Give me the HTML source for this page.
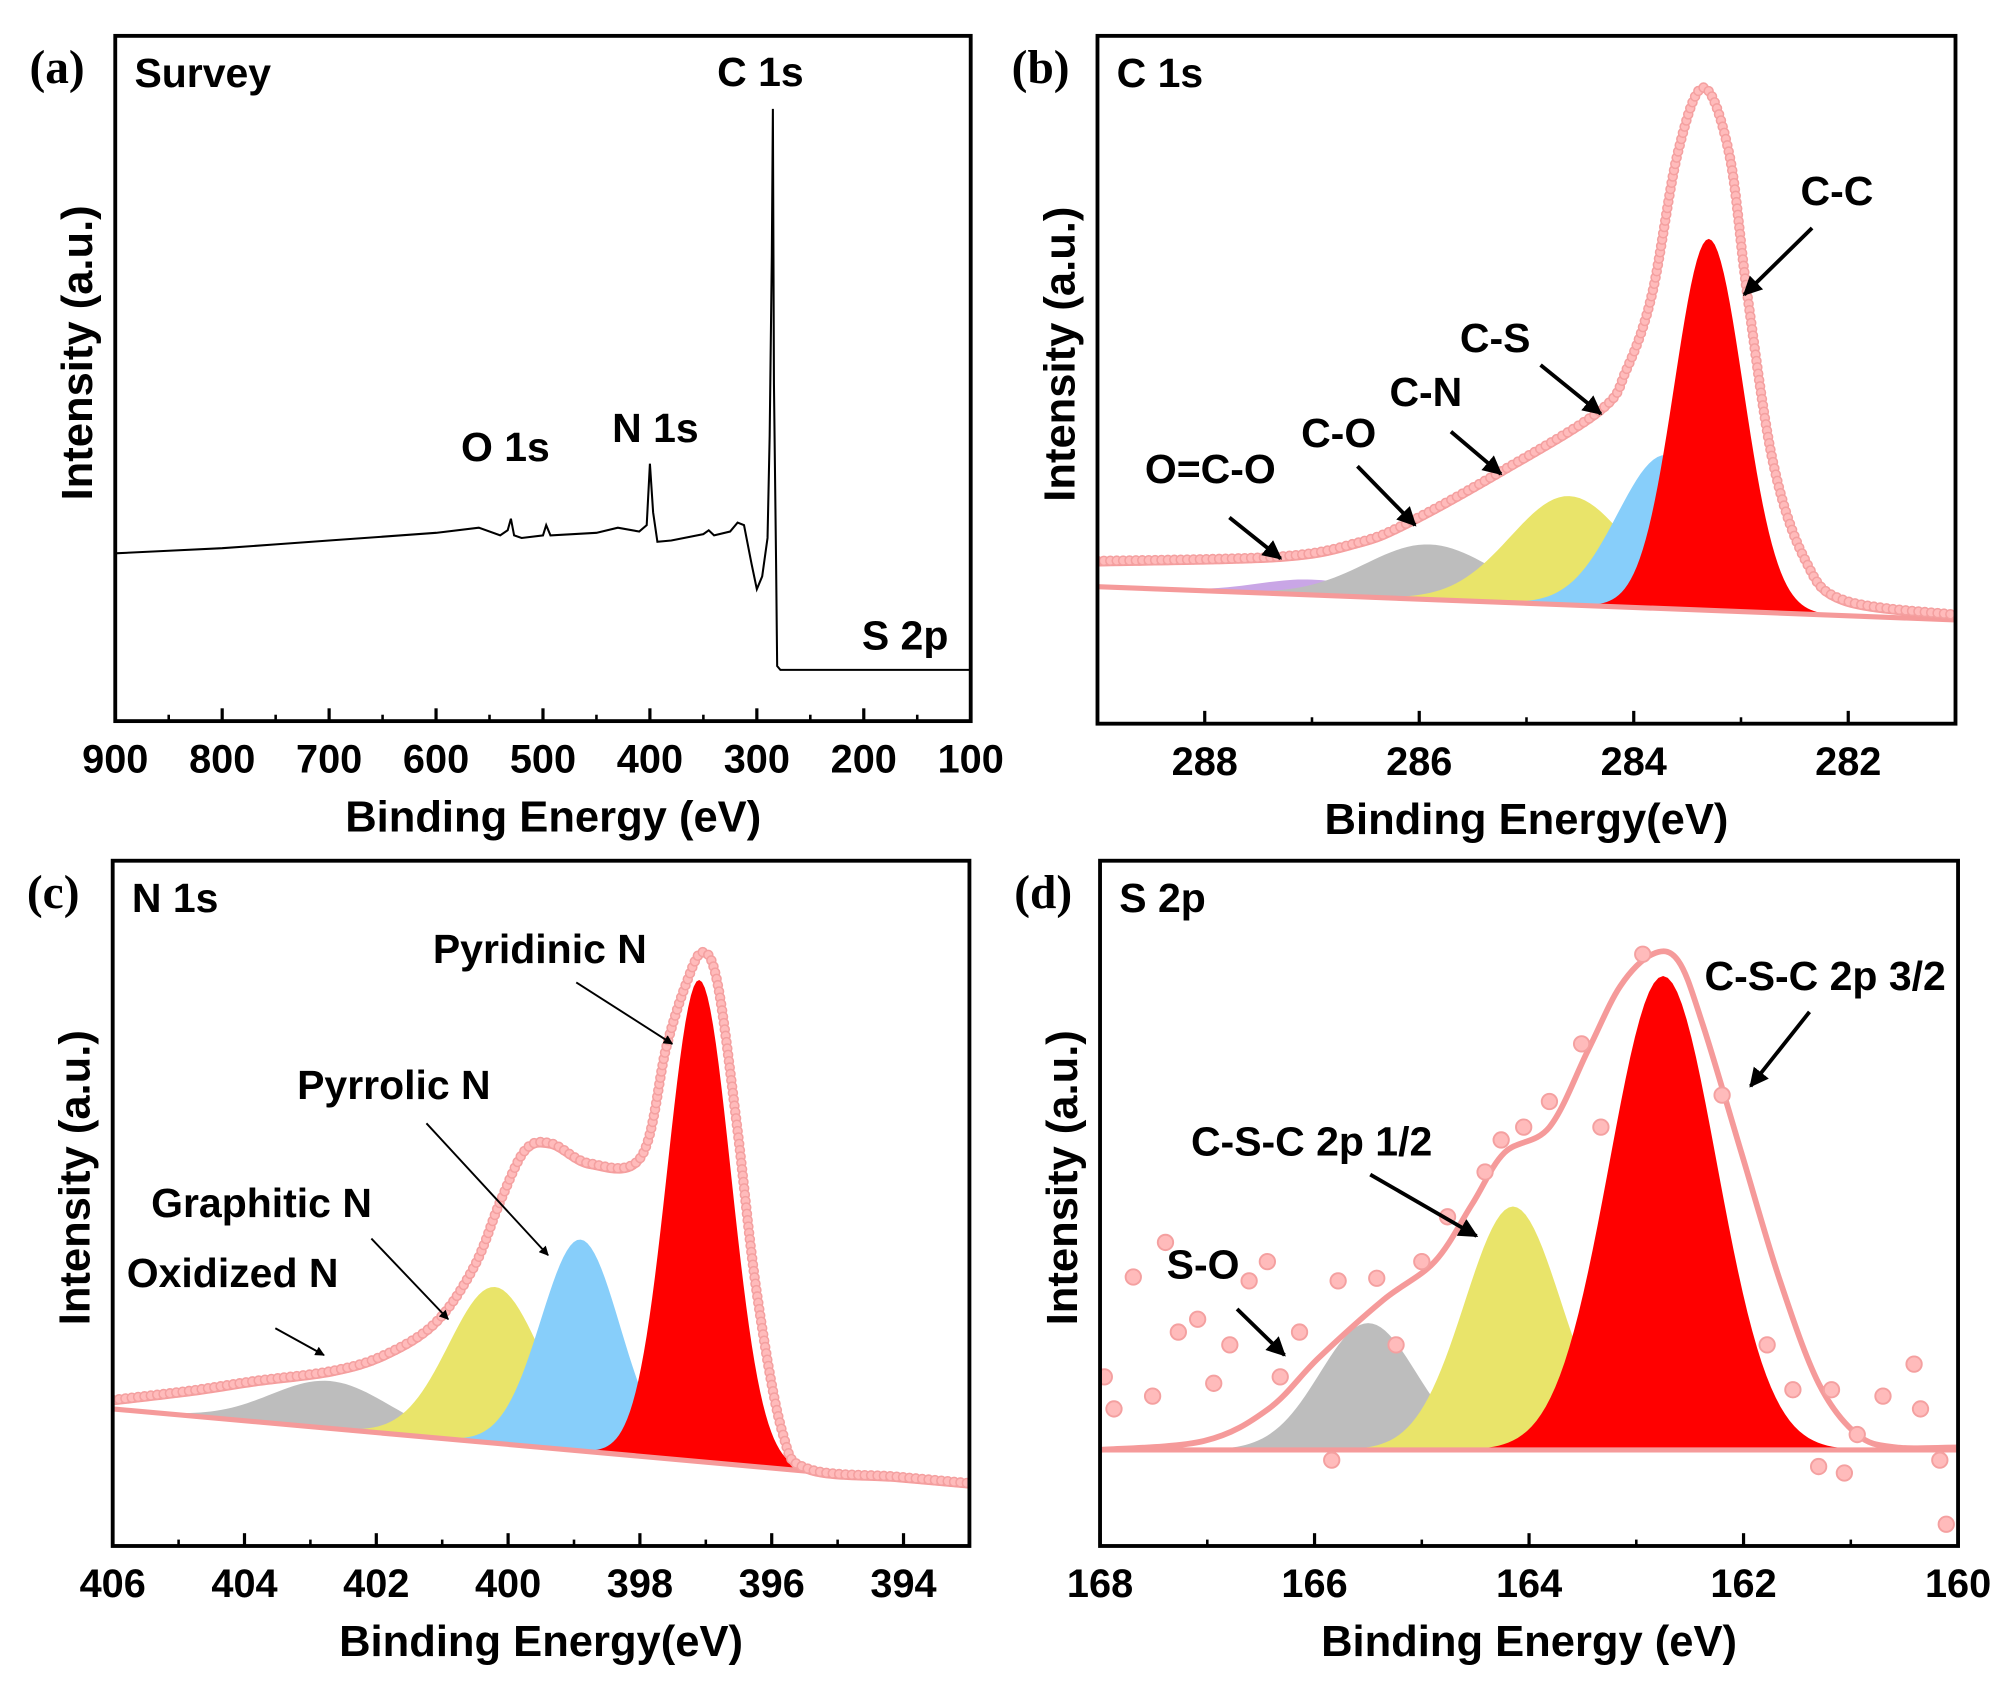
<!DOCTYPE html>
<html><head><meta charset="utf-8"><style>
html,body{margin:0;padding:0;background:#fff}
svg{display:block}
text{font-family:"Liberation Sans",sans-serif;font-weight:bold;fill:#000}
.pl{font-family:"Liberation Serif",serif;font-size:37px}
.tk{font-size:31px}
.ax{font-size:34px}
.lb{font-size:32px}
</style></head><body>
<svg id="fig" width="2008" height="1692" viewBox="0 0 1568 1321" preserveAspectRatio="none" xmlns="http://www.w3.org/2000/svg">
<defs><marker id="ah" viewBox="0 0 10 10" refX="9" refY="5" markerWidth="5" markerHeight="5" orient="auto"><path d="M0,0 L10,5 L0,10 z" fill="#000"/></marker></defs>
</svg>
<script>
// ---------- data ----------
const surveyEV = [900,850,800,750,700,650,600,560,540,533,530,527,520,500,497,493,450,430,410,403,400,397,393,380,350,345,340,325,318,312,305,300,295,290,288,286,285,284,282,281,278,200,100];
const surveyI  = [131,133,135,138,141,144,147,151,145,149,158,145,143,145,153,145,147,151,148,153,201,163,140,141,146,149,145,148,155,153,123,103,113,143,223,363,478,263,123,43,40,40,40];
const surveyTicks = [900,800,700,600,500,400,300,200,100];

const c1sNames = ["O=C-O","C-O","C-N","C-S","C-C"];
const c1sCenter = [287.0,285.9,284.6,283.7,283.3];
const c1sHeight = [12,43,85,120,290];
const c1sSigma = [0.5,0.6,0.55,0.45,0.32];
const c1sEnvEV = [289,287.3,286.58,286.11,285.24,284.31,284.07,283.83,283.59,283.35,283.11,282.94,282.7,282.4,282.04,281];
const c1sEnvI  = [18,27,40,57,100,151,183,243,354,406,355,245,115,40,10,2];
const c1sTicks = [288,286,284,282];

const n1sNames = ["Oxidized N","Graphitic N","Pyrrolic N","Pyridinic N"];
const n1sCenter = [402.7,400.2,398.9,397.1];
const n1sHeight = [37,122,165,376];
const n1sSigma = [0.9,0.7,0.6,0.48];
const n1sEnvEV = [406,404.79,403.82,402.67,401.88,401.1,400.51,400.12,399.74,399.35,398.76,397.98,397.6,397.3,397.05,396.82,396.53,396.23,395.84,395.45,394.09,393];
const n1sEnvI  = [5,18,30,43,59,88,135,187,229,236,223,232,319,370,396,372,264,135,27,0,0,0];
const n1sTicks = [406,404,402,400,398,396,394];

const s2pNames = ["S-O","C-S-C 2p 1/2","C-S-C 2p 3/2"];
const s2pCenter = [165.5,164.15,162.75];
const s2pHeight = [99,190,370];
const s2pSigma = [0.45,0.45,0.5];
const s2pEnvEV = [168,167.03,166.43,165.96,165.36,164.88,164.53,164.23,163.81,163.45,163.15,162.85,162.61,162.38,162.02,161.66,161.3,160.94,160.58,160];
const s2pEnvI  = [0,7,32,72,117,147,192,232,252,312,362,387,382,332,232,132,52,12,2,2];
const s2pPtsEV = [167.96,167.87,167.69,167.51,167.39,167.27,167.09,166.94,166.79,166.61,166.44,166.32,166.14,165.78,165.84,165.42,165.24,165.0,164.76,164.41,164.26,164.05,163.81,163.51,163.33,162.94,162.2,161.78,161.54,161.3,161.06,160.94,160.7,160.35,160.11,160.41,160.17,161.18];
const s2pPtsI  = [57,32,135,42,162,92,102,52,82,132,147,57,92,132,-8,134,82,147,182,217,242,252,272,317,252,387,277,82,47,-13,-18,12,42,32,-58,67,-8,47];
const s2pTicks = [168,166,164,162,160];

// ---------- helpers ----------
const svg = document.getElementById('fig');
const NS = 'http://www.w3.org/2000/svg';
function mk(tag, attrs, parent){const e=document.createElementNS(NS,tag);for(const k in attrs)e.setAttribute(k,attrs[k]);(parent||svg).appendChild(e);return e;}
function txt(s,x,y,cls,parent,anchor){const t=mk('text',{x:x,y:y,class:cls,'text-anchor':anchor||'start'},parent);t.textContent=s;return t;}
function smooth(pts){let d='M'+pts[0][0]+','+pts[0][1];for(let i=0;i<pts.length-1;i++){const p0=pts[Math.max(0,i-1)],p1=pts[i],p2=pts[i+1],p3=pts[Math.min(pts.length-1,i+2)];const c1=[p1[0]+(p2[0]-p0[0])/6,p1[1]+(p2[1]-p0[1])/6],c2=[p2[0]-(p3[0]-p1[0])/6,p2[1]-(p3[1]-p1[1])/6];d+=' C'+c1[0]+','+c1[1]+' '+c2[0]+','+c2[1]+' '+p2[0]+','+p2[1];}return d;}
function gauss(e,c,h,s){return h*Math.exp(-0.5*Math.pow((e-c)/s,2));}

function panel(cfg){
  const g=mk('g',{});
  
  
  const L=cfg.x0,R=cfg.x1,T=cfg.y0,B=cfg.y1;
  const xs=e=>L+(cfg.e0-e)/(cfg.e0-cfg.e1)*(R-L);
  const base=e=>cfg.b0+(cfg.e0-e)/(cfg.e0-cfg.e1)*(cfg.b1-cfg.b0);
  const ys=(e,I)=>base(e)-I;
  const clipId='clip'+cfg.id;
  const cp=mk('clipPath',{id:clipId},g);mk('rect',{x:L,y:T,width:R-L,height:B-T},cp);
  const inner=mk('g',{'clip-path':'url(#'+clipId+')'},g);
  return {g,inner,xs,base,ys,L,R,T,B};
}
function frame(p,cfg){
  const r=mk('rect',{x:p.L,y:p.T,width:p.R-p.L,height:p.B-p.T,fill:'none',stroke:'#000','stroke-width':3},p.g);
  
  
  cfg.ticks.forEach(v=>{const x=p.xs(v);const l=mk('line',{x1:x,y1:p.B,x2:x,y2:p.B-10,stroke:'#000','stroke-width':2.5},p.g);
    
    
    const t=txt(String(v),x,p.B+40,'tk',p.g,'middle');
    
    });
  for(let i=0;i<cfg.ticks.length-1;i++){const v=(cfg.ticks[i]+cfg.ticks[i+1])/2;const x=p.xs(v);mk('line',{x1:x,y1:p.B,x2:x,y2:p.B-5,stroke:'#000','stroke-width':2},p.g);}
  const xt=txt(cfg.xtitle,(p.L+p.R)/2+(cfg.xoff||0),p.B+86,'ax',p.g,'middle');
  
  
  const yx=p.L-18,yy=(p.T+p.B)/2-20;
  const yt=txt('Intensity (a.u.)',yx,yy,'ax',p.g,'middle');yt.setAttribute('transform','rotate(-90 '+yx+' '+yy+')');
  
  
  const pl=txt(cfg.letter,p.L-67,p.T+37,'pl',p.g);
  
  
  const st=txt(cfg.title,p.L+15,p.T+40,'lb',p.g);
  
  
}
function components(p,cfg,names,C,H,S,colors){
  for(let k=0;k<C.length;k++){
    let pts=[];const lo=C[k]+3.5*S[k],hi=C[k]-3.5*S[k];
    for(let e=lo;e>=hi;e-=(lo-hi)/80)pts.push([p.xs(e),p.ys(e,gauss(e,C[k],H[k],S[k]))]);
    for(let e=hi;e<=lo;e+=(lo-hi)/80)pts.push([p.xs(e),p.base(e)]);
    const poly=mk('polygon',{points:pts.map(q=>q.join(',')).join(' '),fill:colors[k]},p.inner);
    
    
  }
}
function envelope(p,cfg,EV,I,dots){
  const pts=EV.map((e,i)=>[p.xs(e),p.ys(e,I[i])]);
  const bl=mk('line',{x1:p.L,y1:p.base(cfg.e0),x2:p.R,y2:p.base(cfg.e1),stroke:'#f59a9a','stroke-width':4},p.inner);
  
  
  const path=mk('path',{d:smooth(pts),fill:'none',stroke:'#f59a9a','stroke-width':4.5},p.inner);
  
  
  if(dots){const len=path.getTotalLength();for(let s=0;s<len;s+=5){const q=path.getPointAtLength(s);mk('circle',{cx:q.x,cy:q.y-2,r:3.5,fill:'#fbb',stroke:'#f4a0a0','stroke-width':1.2},p.inner);}}
}
function arrow(x1,y1,x2,y2,w,name){const l=mk('line',{x1,y1,x2,y2,stroke:'#000','stroke-width':w,'marker-end':'url(#ah)'});
  
  }
function label(s,x,y,name){const t=txt(s,x,y,'lb');}

// ---------- panel a ----------
const cfgA={id:'a',name:'panel-a-survey',x0:90,x1:758,y0:28,y1:563,e0:900,e1:100,b0:563,b1:563,ticks:surveyTicks,xtitle:'Binding Energy (eV)',letter:'(a)',title:'Survey',xoff:8};
const pa=panel(cfgA);
const sv=mk('polyline',{points:surveyEV.map((e,i)=>pa.xs(e)+','+pa.ys(e,surveyI[i])).join(' '),fill:'none',stroke:'#000','stroke-width':1.6},pa.inner);


frame(pa,cfgA);
label('C 1s',560,67,'label-c1s');label('O 1s',360,360,'label-o1s');label('N 1s',478,345,'label-n1s');label('S 2p',673,507,'label-s2p');

// ---------- panel b ----------
const cfgB={id:'b',name:'panel-b-c1s',x0:857,x1:1527,y0:28,y1:565,e0:289,e1:281,b0:458,b1:484,ticks:c1sTicks,xtitle:'Binding Energy(eV)',letter:'(b)',title:'C 1s'};
const pb=panel(cfgB);
components(pb,cfgB,c1sNames,c1sCenter,c1sHeight,c1sSigma,['#c9a6e6','#bdbdbd','#e9e46a','#87cefa','#ff0000']);
envelope(pb,cfgB,c1sEnvEV,c1sEnvI,true);
frame(pb,cfgB);
label('C-C',1406,160,'label-cc');label('C-S',1140,275,'label-cs');label('C-N',1085,317,'label-cn');label('C-O',1016,349,'label-co');label('O=C-O',894,377,'label-oco');
arrow(1415,178,1362,230,3,'arrow-cc');arrow(1203,285,1250,323,3,'arrow-cs');arrow(1133,337,1172,370,3,'arrow-cn');arrow(1060,364,1105,410,3,'arrow-co');arrow(960,404,1000,436,3,'arrow-oco');

// ---------- panel c ----------
const cfgC={id:'c',name:'panel-c-n1s',x0:88,x1:757,y0:672,y1:1207,e0:406,e1:393,b0:1100,b1:1160,ticks:n1sTicks,xtitle:'Binding Energy(eV)',letter:'(c)',title:'N 1s'};
const pc=panel(cfgC);
components(pc,cfgC,n1sNames,n1sCenter,n1sHeight,n1sSigma,['#bdbdbd','#e9e46a','#87cefa','#ff0000']);
envelope(pc,cfgC,n1sEnvEV,n1sEnvI,true);
frame(pc,cfgC);
label('Pyridinic N',338,752,'label-pyridinic');label('Pyrrolic N',232,858,'label-pyrrolic');label('Graphitic N',118,950,'label-graphitic');label('Oxidized N',99,1005,'label-oxidized');
arrow(450,767,525,815,1.5,'arrow-pyridinic');arrow(333,877,428,980,1.5,'arrow-pyrrolic');arrow(290,967,350,1030,1.5,'arrow-graphitic');arrow(215,1037,253,1058,1.5,'arrow-oxidized');

// ---------- panel d ----------
const cfgD={id:'d',name:'panel-d-s2p',x0:859,x1:1529,y0:672,y1:1207,e0:168,e1:160,b0:1132,b1:1132,ticks:s2pTicks,xtitle:'Binding Energy (eV)',letter:'(d)',title:'S 2p'};
const pd=panel(cfgD);
components(pd,cfgD,s2pNames,s2pCenter,s2pHeight,s2pSigma,['#bdbdbd','#e9e46a','#ff0000']);
envelope(pd,cfgD,s2pEnvEV,s2pEnvI,false);
s2pPtsEV.forEach((e,i)=>{const c=mk('circle',{cx:pd.xs(e),cy:pd.ys(e,s2pPtsI[i]),r:6,fill:'#fbb',stroke:'#f4a0a0','stroke-width':1.5},pd.inner);
  
  });
frame(pd,cfgD);
label('C-S-C 2p 3/2',1331,773,'label-csc32');label('C-S-C 2p 1/2',930,902,'label-csc12');label('S-O',911,998,'label-so');
arrow(1413,790,1367,848,3,'arrow-csc32');arrow(1070,917,1153,965,3,'arrow-csc12');arrow(966,1022,1003,1058,3,'arrow-so');
</script>
</body></html>
